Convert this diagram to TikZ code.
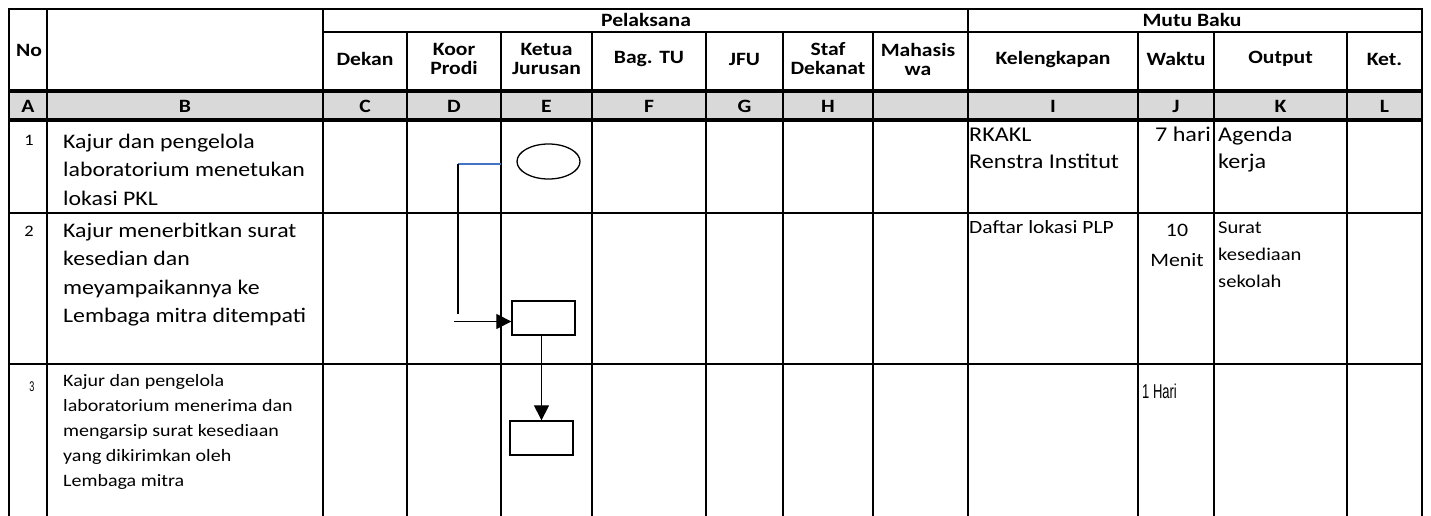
\documentclass[tikz,border=0pt]{standalone}
\usepackage{fontspec}
\setmainfont{Carlito}[FakeStretch=1.15]
\newfontfamily\narrowfont{Liberation Sans}[FakeStretch=0.65]
\usetikzlibrary{arrows.meta,shapes.geometric}
\definecolor{hdrgray}{HTML}{D9D9D9}
\definecolor{linkblue}{HTML}{4472C4}
\tikzset{
  gridline/.style={line width=2pt},
  thickline/.style={line width=4pt},
  hdr/.style={font=\bfseries\fontsize{18.8}{19}\selectfont, align=center, inner sep=0pt},
  celltext/.style={anchor=north west, align=left, inner sep=0pt},
  flowshape/.style={draw, line width=1.3pt, inner sep=0pt},
  flowline/.style={line width=1.4pt},
  flowarrow/.style={line width=1.2pt, -{Triangle[length=15pt,width=15pt]}},
}
\begin{document}
\begin{tikzpicture}[x=1pt,y=-1pt]
\useasboundingbox (0,0) rectangle (1431,516);
% gray letter row
\fill[hdrgray] (9,91) rectangle (1422,120);
% horizontal lines
\draw[gridline] (8,9) -- (1423,9);
\draw[gridline] (323,32) -- (1422,32);
\draw[thickline] (8,91) -- (1423,91);
\draw[thickline] (8,120) -- (1423,120);
\draw[gridline] (9,213) -- (1422,213);
\draw[gridline] (9,364) -- (1422,364);
% vertical lines
\foreach \xx in {9,47,323,968,1422} \draw[gridline] (\xx,9) -- (\xx,516);
\foreach \xx in {407,501,592,706,783,873,1138,1214,1347} \draw[gridline] (\xx,32) -- (\xx,516);
% header texts
\node[hdr] (hNo) at (29,50) {No};
\node[hdr] (hPel) at (646,20) {Pelaksana};
\node[hdr] (hMutu) at (1192,20) {Mutu Baku};
\node[hdr] (hC) at (365,59) {Dekan};
\node[hdr] (hD) at (454,59) {Koor\\Prodi};
\node[hdr] (hE) at (546.5,59) {Ketua\\Jurusan};
\node[hdr] (hF) at (649,59) {Bag. TU};
\node[hdr] (hG) at (744.5,59) {JFU};
\node[hdr] (hH) at (828,59) {Staf\\Dekanat};
\node[hdr] (hM) at (918,59) {Mahasis\\wa};
\node[hdr] (hI) at (1053,59) {Kelengkapan};
\node[hdr] (hJ) at (1176,59) {Waktu};
\node[hdr] (hK) at (1280.5,59) {Output};
\node[hdr] (hL) at (1384.5,59) {Ket.};
% letter row
\node[hdr] (lA) at (28,106.5) {A};
\node[hdr] (lB) at (185,106.5) {B};
\node[hdr] (lC) at (365,106.5) {C};
\node[hdr] (lD) at (454,106.5) {D};
\node[hdr] (lE) at (546.5,106.5) {E};
\node[hdr] (lF) at (649,106.5) {F};
\node[hdr] (lG) at (744.5,106.5) {G};
\node[hdr] (lH) at (828,106.5) {H};
\node[hdr] (lI) at (1053,106.5) {I};
\node[hdr] (lJ) at (1176,106.5) {J};
\node[hdr] (lK) at (1280.5,106.5) {K};
\node[hdr] (lL) at (1384.5,106.5) {L};
% row numbers
\node[inner sep=0pt, anchor=base, font=\fontsize{16}{18}\selectfont] (n1) at (29,146) {1};
\node[inner sep=0pt, anchor=base, font=\fontsize{16}{18}\selectfont] (n2) at (29,236) {2};
\node[inner sep=0pt, anchor=base, font=\narrowfont\fontsize{14}{16}\selectfont] (n3) at (32,391) {3};
% descriptions
\node[celltext, font=\fontsize{20.7}{28.5}\selectfont] (d1) at (63,133.8) {Kajur dan pengelola\\laboratorium menetukan\\lokasi PKL};
\node[celltext, font=\fontsize{20.7}{28.5}\selectfont] (d2) at (63,222.8) {Kajur menerbitkan surat\\kesedian dan\\meyampaikannya ke\\Lembaga mitra ditempati};
\node[celltext, font=\fontsize{17.4}{25}\selectfont] (d3) at (63,373.8) {Kajur dan pengelola\\laboratorium menerima dan\\mengarsip surat kesediaan\\yang dikirimkan oleh\\Lembaga mitra};
% mutu baku row 1
\node[celltext, font=\fontsize{21}{27}\selectfont] (k1) at (969,127.5) {RKAKL\\Renstra Institut};
\node[inner sep=0pt, anchor=base, font=\fontsize{21}{27}\selectfont] (w1) at (1183,141) {7 hari};
\node[celltext, font=\fontsize{21}{27}\selectfont] (o1) at (1218,126.3) {Agenda\\kerja};
% mutu baku row 2
\node[inner sep=0pt, anchor=base west, font=\fontsize{18.7}{27}\selectfont] (k2) at (969,233) {Daftar lokasi PLP};
\node[inner sep=0pt, anchor=north, align=center, font=\fontsize{19}{30}\selectfont] (w2) at (1177,224) {10\\Menit};
\node[celltext, font=\fontsize{17.9}{27}\selectfont] (o2) at (1218,221.5) {Surat\\kesediaan\\sekolah};
% mutu baku row 3
\node[inner sep=0pt, anchor=base west, font=\narrowfont\fontsize{20}{24}\selectfont] (w3) at (1142,398) {1 Hari};
% flowchart
\node[flowshape, ellipse, minimum width=63pt, minimum height=35pt] (start) at (548.5,161.5) {};
\node[flowshape, rectangle, minimum width=63pt, minimum height=34pt] (p1) at (543.5,318) {};
\node[flowshape, rectangle, minimum width=63pt, minimum height=34pt] (p2) at (541.5,438) {};
\coordinate (c0) at (501,164);
\coordinate (c1) at (458,164);
\coordinate (c2) at (458,314);
\coordinate (c3) at (454,321.5);
\draw[flowline, linkblue] (c0) -- (c1);
\draw[flowline] (c1) -- (c2);
\draw[flowarrow] (c3) -- (c3 -| p1.west);
\draw[flowarrow] (p2.north |- p1.south) -- (p2.north);
\end{tikzpicture}
\end{document}
